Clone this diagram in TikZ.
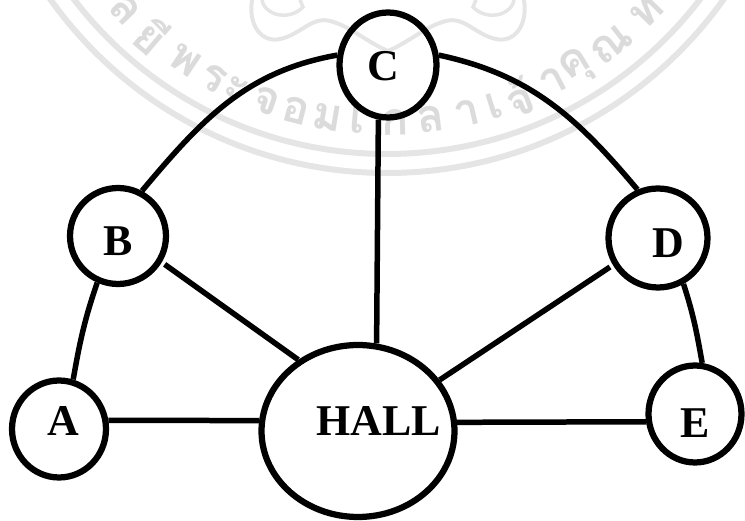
\documentclass[tikz,border=0pt]{standalone}
\usepackage{fontspec}
\setmainfont{Liberation Serif}
\newfontfamily\wmfont[Script=Thai]{Loma}
\usetikzlibrary{
	shapes.geometric,
	positioning
}

\begin{document}
\begin{tikzpicture}[
			x=0.02cm, y=0.02cm,
			parada/.style={draw, ellipse, line width=0.125cm, inner sep=0pt, minimum width=1.92cm, minimum height=1.92cm},
			rotulo/.style={font=\fontsize{25}{25}\selectfont\bfseries, inner sep=0pt},
			lig/.style={line width=0.11cm},
			marca/.style={black!10, line width=0.12cm},
			letra/.style={text=black!14, inner sep=0pt, font=\fontsize{26}{26}\selectfont\wmfont\bfseries}
		]
		\useasboundingbox (0,0) rectangle (745,521);

		% marca d'agua
		\begin{scope}
			\clip (0,0) rectangle (745,521);
			\draw[marca] (387,761) circle (413);
			\draw[marca] (387,761) circle (394);
			\begin{scope}[shift={(387,761)}]
				\foreach \a/\ch [count=\i] in {-46.3/ล, -40.4/ยี, -33.9/พ, -28.6/ร, -24.6/ะ, -19.4/จ, -14.5/อ, -9.5/ม, -4.7/เ, 1.3/ก, 7/ล, 12.8/า, 17.3/เ, 21.4/จ้, 27.3/า, 31.7/คุ, 38.2/ณ, 45.9/ท}
					\node[letra, rotate=\a] (w\i) at (270+\a:362) {\ch};
			\end{scope}
			\foreach \s in {0,1} {
				\begin{scope}[shift={(776*\s,0)}, xscale=1-2*\s]
					\draw[marca, line width=0.08cm] (252,521) .. controls (248,495) and (262,478) .. (280,482) .. controls (300,486) and (312,505) .. (330,500) .. controls (350,495) and (365,480) .. (388,470);
					\draw[marca, line width=0.07cm] (262,521) .. controls (265,505) and (290,500) .. (303,514) -- (300,521);
				\end{scope}
			}
		\end{scope}

		\node[parada, minimum width=1.88cm, minimum height=1.94cm, label={[rotulo, xshift=0.08cm, yshift=0.16cm]center:A}] (a) at (59,92) {};
		\node[parada, label={[rotulo, yshift=-0.1cm]center:B}] (b) at (118,285) {};
		\node[parada, minimum width=1.94cm, minimum height=2.1cm, label={[rotulo, xshift=-0.1cm, yshift=-0.02cm]center:C}] (c) at (388,456) {};
		\node[parada, minimum width=1.98cm, minimum height=1.98cm, label={[rotulo, xshift=0.2cm, yshift=-0.1cm]center:D}] (d) at (658,283) {};
		\node[parada, minimum width=1.86cm, minimum height=1.94cm, label={[rotulo, yshift=-0.18cm]center:E}] (e) at (695,107) {};
		\node[parada, minimum width=3.86cm, minimum height=3.44cm, label={[rotulo, xshift=0.42cm, yshift=0.2cm]center:HALL}] (hall) at (358,90) {};

		\draw[lig] (a.10) -- (hall.174);
		\draw[lig] (e.189) -- (hall.5);
		\draw[lig] (c.260) -- (hall.78);
		\draw[lig, shorten <=0.07cm] (b.-31) -- (hall.130);
		\draw[lig, shorten <=0.07cm] (d.211) -- (hall.32);

		\draw[lig] (a.74) to[out=80, in=251] (b.246);
		\draw[lig] (b.62) to[out=50, in=190] (c.169);
		\draw[lig] (c.11) to[out=-12, in=130] (d.113);
		\draw[lig] (d.-61) to[out=-72, in=100] (e.82);
	\end{tikzpicture}
\end{document}
